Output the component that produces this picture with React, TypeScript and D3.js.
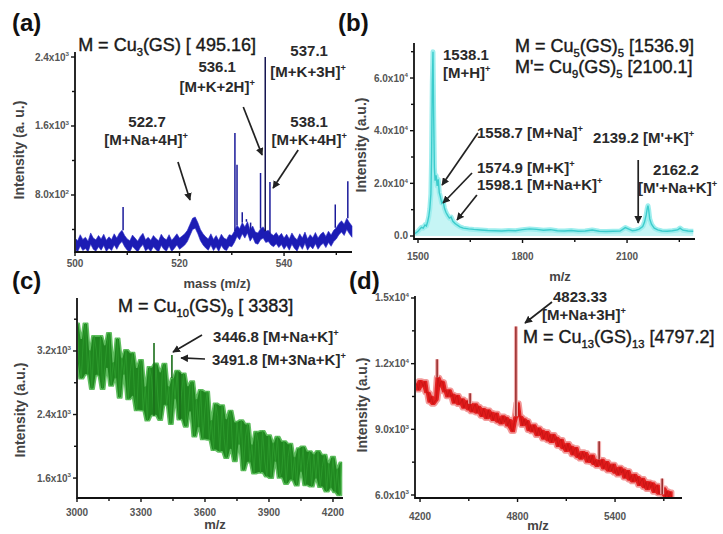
import React from "react";
import * as d3 from "d3";

const FONT = "'Liberation Sans', Arial, Helvetica, sans-serif";

// (a) Cu3(GS): top edge of the noise band every 0.5 m/z from 500, plus sharp peaks
const aStart = 500;
const aStep = 0.5;
const aNoise = [
  300, 270, 340, 285, 310, 265, 360, 300, 280, 330,
  290, 345, 275, 315, 285, 350, 300, 360, 390, 330,
  290, 270, 335, 300, 265, 320, 355, 280, 310, 275,
  330, 295, 270, 345, 300, 280, 340, 275, 310, 350,
  300, 325, 350, 390, 460, 530, 545, 480, 400, 350,
  315, 290, 350, 285, 330, 275, 345, 300, 285, 340,
  330, 380, 450, 410, 480, 430, 490, 395, 440, 370,
  360, 410, 430, 380, 390, 350, 330, 365, 320, 355,
  300, 345, 290, 360, 310, 280, 350, 300, 370, 290,
  340, 305, 365, 300, 345, 370, 320, 380, 335, 390,
  420, 470, 500, 460, 530, 480, 440,
];
const aPeakMz = [509.2, 530.6, 531.0, 532.0, 532.8, 533.6, 535.5, 536.4, 537.3, 549.8, 552.2];
const aPeakInt = [660, 1520, 1150, 600, 520, 480, 1055, 2400, 950, 690, 960];

// (b) Cu5(GS)5 / Cu9(GS)5
const bMz = [
  1490, 1495, 1500, 1505, 1510, 1515, 1520, 1524, 1528, 1531, 1534, 1537, 1539, 1541, 1543,
  1545, 1547, 1549, 1552, 1555, 1558, 1561, 1564, 1568, 1572, 1576, 1580, 1585, 1590, 1595,
  1600, 1606, 1612, 1620, 1630, 1645, 1660, 1680, 1700, 1720, 1740, 1760, 1780, 1800, 1820,
  1840, 1860, 1880, 1900, 1920, 1940, 1960, 1980, 2000, 2020, 2040, 2060, 2080, 2095, 2105,
  2115, 2125, 2135, 2145, 2150, 2155, 2158, 2160, 2162, 2165, 2170, 2178, 2188, 2200, 2215,
  2230, 2245, 2252, 2260, 2275, 2290,
];
const bInt = [
  900, 1300, 1800, 2600, 3300, 3000, 4200, 3800, 5600, 7500, 10500, 16000, 30000, 58000, 70000,
  45000, 26000, 21000, 23000, 19000, 21500, 16500, 15000, 12500, 13200, 10500, 9000, 7800, 6800, 7200,
  5600, 4800, 4200, 3500, 3000, 2700, 2500, 2300, 2100, 2000, 1900, 2100, 2000, 2400, 2700,
  2500, 2200, 2400, 2000, 1900, 2100, 1800, 1900, 2300, 1800, 1700, 1800, 1900, 3200, 2600,
  2000, 2200, 2600, 3600, 5200, 8000, 10500, 11500, 10000, 6500, 4500, 3000, 2300, 1900, 1800,
  2000, 2300, 3000, 2200, 1900, 1800,
];

// (c) Cu10(GS)9: noisy trace every 10 m/z from 3000, plus peaks
const cStart = 3000;
const cStep = 10;
const cNoise = [
  3550, 3060, 2850, 3360, 3550, 2900, 3210, 2720, 3390, 3220,
  2890, 3390, 2720, 2980, 3280, 3430, 2760, 3060, 2855, 3360,
  2610, 3115, 2900, 3215, 2590, 2945, 3180, 2625, 2450, 2995,
  3090, 2448, 2755, 2322, 3000, 2848, 2386, 3044, 2572, 2330,
  2940, 3042, 2514, 2756, 2278, 2860, 2592, 2954, 2336, 2668,
  2920, 2245, 2430, 2765, 2820, 2120, 2595, 2240, 2710, 2085,
  2470, 2690, 2080, 2330, 1950, 2540, 2380, 1930, 2520, 2100,
  1850, 2350, 2450, 1960, 1810, 2310, 2020, 2330, 1695, 2120,
  2285, 1795, 2025, 1655, 2185, 2055, 1665, 2195, 1815, 1617,
  2140, 1598, 2046, 1804, 2122, 1600, 1688, 2066, 1524, 1872,
  2035, 1571, 1867, 1503, 1979, 1675, 2001, 1507, 1773, 1940,
  1490, 1901, 1592, 1943, 1484, 1745, 1896, 1427, 1788, 1470,
  1870, 1420, 1720, 1380, 1800,
];
const cPeakMz = [3361, 3445, 3483];
const cPeakInt = [3300, 3150, 2930];

// (d) Cu13(GS)13: noisy trace every 10 m/z from 4180, plus peaks
const dStart = 4180;
const dStep = 10;
const dNoise = [
  11080, 10800, 11220, 11160, 10950, 11190, 10680, 10680, 10250, 10500,
  10150, 10260, 10350, 11380, 10950, 11200, 11160, 10720, 10790, 10490,
  10800, 10490, 10600, 10200, 10470, 10550, 10130, 10210, 10390, 9970,
  10210, 10300, 9890, 10170, 9800, 10010, 10160, 9750, 10040, 9780,
  9600, 9940, 9760, 9490, 9880, 9550, 9770, 9410, 9650, 9740,
  9330, 9500, 9250, 9610, 9330, 9540, 9160, 9440, 9050, 8900,
  9310, 9600, 10200, 9600, 9580, 9170, 9470, 9200, 9390, 8950,
  9190, 8890, 9200, 8930, 8720, 9060, 8740, 8950, 8560, 8790,
  8890, 8480, 8760, 8405, 8760, 8475, 8630, 8225, 8500, 8535,
  8120, 8295, 8000, 8350, 8020, 8220, 7840, 8080, 8160, 7730,
  7910, 7640, 7980, 7710, 7930, 7510, 7780, 7500, 7820, 7400,
  7590, 7315, 7630, 7360, 7620, 7200, 7420, 7520, 7100, 7380,
  7090, 7410, 7000, 7215, 6910, 7265, 7000, 7180, 6775, 7040,
  7110, 6685, 6900, 6600, 6940, 6640, 6830, 6440, 6640, 6750,
  6340, 6605, 6250, 6590, 6330, 6550, 6130, 6380, 6450, 6050,
  6270, 6030, 6320, 5920, 6180, 5880, 6140, 5850,
];
const dPeakMz = [4305, 4508, 4790, 5302, 5690];
const dPeakInt = [12200, 10650, 13700, 8450, 6750];

// ticks
const aXTicks = [500, 520, 540];
const aXMinor = [510, 530, 550];
const aYTicks = [2400, 1600, 800];
const aYMinor = [2000, 1200, 400];
const aYLabels = [["2.4x10", "3"], ["1.6x10", "3"], ["8.0x10", "2"]];

const bXTicks = [1500, 1800, 2100];
const bXMinor = [1650, 1950, 2250];
const bYTicks = [60000, 40000, 20000, 0];
const bYMinor = [70000, 50000, 30000, 10000];
const bYLabels = [["6.0x10", "4"], ["4.0x10", "4"], ["2.0x10", "4"], ["0.0", ""]];

const cXTicks = [3000, 3300, 3600, 3900, 4200];
const cXMinor = [3150, 3450, 3750, 4050];
const cYTicks = [3200, 2400, 1600];
const cYMinor = [3600, 2800, 2000];
const cYLabels = [["3.2x10", "3"], ["2.4x10", "3"], ["1.6x10", "3"]];

const dXTicks = [4200, 4800, 5400];
const dXMinor = [4500, 5100, 5700];
const dYTicks = [15000, 12000, 9000, 6000];
const dYMinor = [13500, 10500, 7500];
const dYLabels = [["1.5x10", "4"], ["1.2x10", "4"], ["9.0x10", "3"], ["6.0x10", "3"]];

type Part = [string, string?];
type Note = { m: number; v: number; parts: Part[]; bold?: boolean; anchor?: string };

const sup = (s: string, p: string): Part[] => [[s], [p, "sup"]];

const aNotes: Note[] = [
  { m: 500.6, v: 2470, parts: [["M = Cu"], ["3", "sub"], ["(GS) [ 495.16]"]], anchor: "start" },
  { m: 544.8, v: 2412, parts: [["537.1"]], bold: true },
  { m: 544.6, v: 2168, parts: sup("[M+K+3H]", "+"), bold: true },
  { m: 527.2, v: 2226, parts: [["536.1"]], bold: true },
  { m: 527.2, v: 1994, parts: sup("[M+K+2H]", "+"), bold: true },
  { m: 513.8, v: 1588, parts: [["522.7"]], bold: true },
  { m: 513.6, v: 1380, parts: sup("[M+Na+4H]", "+"), bold: true },
  { m: 544.8, v: 1588, parts: [["538.1"]], bold: true },
  { m: 544.8, v: 1380, parts: sup("[M+K+4H]", "+"), bold: true },
];
const aArrows = [
  [519.7, 1183, 522.0, 742],
  [532.2, 1820, 535.8, 1264],
  [542.7, 1322, 537.9, 881],
];

const bNotes: Note[] = [
  { m: 1778.5, v: 69880, parts: [["M = Cu"], ["5", "sub"], ["(GS)"], ["5", "sub"], [" [1536.9]"]], anchor: "start" },
  { m: 1778.5, v: 61900, parts: [["M'= Cu"], ["9", "sub"], ["(GS)"], ["5", "sub"], [" [2100.1]"]], anchor: "start" },
  { m: 1571.8, v: 66840, parts: [["1538.1"]], bold: true, anchor: "start" },
  { m: 1571.8, v: 60000, parts: sup("[M+H]", "+"), bold: true, anchor: "start" },
  { m: 1669.4, v: 37220, parts: sup("1558.7 [M+Na]", "+"), bold: true, anchor: "start" },
  { m: 2002.4, v: 35320, parts: sup("2139.2 [M'+K]", "+"), bold: true, anchor: "start" },
  { m: 1669.4, v: 23930, parts: sup("1574.9 [M+K]", "+"), bold: true, anchor: "start" },
  { m: 1669.4, v: 17470, parts: sup("1598.1 [M+Na+K]", "+"), bold: true, anchor: "start" },
  { m: 2174.7, v: 23170, parts: [["2162.2"]], bold: true, anchor: "start" },
  { m: 2131.6, v: 16330, parts: sup("[M'+Na+K]", "+"), bold: true, anchor: "start" },
];
const bArrows = [
  [1672, 39120, 1569, 19370],
  [1655, 23930, 1572, 12530],
  [1669, 15570, 1612, 6080],
  [2132, 28860, 2132, 4940],
];

const cNotes: Note[] = [
  { m: 3192, v: 3691, parts: [["M = Cu"], ["10", "sub"], ["(GS)"], ["9", "sub"], [" [ 3383]"]], anchor: "start" },
  { m: 3638, v: 3313, parts: sup("3446.8 [M+Na+K]", "+"), bold: true, anchor: "start" },
  { m: 3633, v: 3024, parts: sup("3491.8 [M+3Na+K]", "+"), bold: true, anchor: "start" },
];
const cArrows = [
  [3586, 3402, 3450, 3187],
  [3600, 3099, 3488, 3112],
];

const dNotes: Note[] = [
  { m: 5018, v: 14817, parts: [["4823.33"]], bold: true, anchor: "start" },
  { m: 4951, v: 13995, parts: sup("[M+Na+3H]", "+"), bold: true, anchor: "start" },
  { m: 4834, v: 12944, parts: [["M = Cu"], ["13", "sub"], ["(GS)"], ["13", "sub"], [" [4797.2]"]], anchor: "start" },
];
const dArrows = [[5012, 14817, 4846, 13858]];

const Rich = ({ parts, size }: { parts: Part[]; size: number }) => {
  let shift = 0;
  return (
    <>
      {parts.map(([t, k], i) => {
        const target = k === "sup" ? -size * 0.42 : k === "sub" ? size * 0.28 : 0;
        const dy = target - shift;
        shift = target;
        return (
          <tspan key={i} dy={dy} fontSize={k ? size * 0.62 : size}>
            {t}
          </tspan>
        );
      })}
    </>
  );
};

const Axes = ({ x, y, box, xt, xm, yt, ym, yl, xtBase }: any) => (
  <g stroke="#111">
    {xt.map((v: number) => (
      <line key={"xt" + v} x1={x(v)} x2={x(v)} y1={box.b} y2={box.b + 4} strokeWidth={1.4} />
    ))}
    {xm.map((v: number) => (
      <line key={"xm" + v} x1={x(v)} x2={x(v)} y1={box.b} y2={box.b + 3} strokeWidth={1.4} />
    ))}
    {yt.map((v: number) => (
      <line key={"yt" + v} x1={box.l - 4} x2={box.l} y1={y(v)} y2={y(v)} strokeWidth={1.4} />
    ))}
    {ym.map((v: number) => (
      <line key={"ym" + v} x1={box.l - 3} x2={box.l} y1={y(v)} y2={y(v)} strokeWidth={1.4} />
    ))}
    <line x1={box.l} x2={box.l} y1={box.t} y2={box.b + 1} strokeWidth={1.8} />
    <line x1={box.l} x2={box.r} y1={box.b} y2={box.b} strokeWidth={1.8} />
    <g stroke="none" fill="#555" fontWeight="bold" fontSize={10}>
      {xt.map((v: number) => (
        <text key={"xl" + v} x={x(v)} y={xtBase} textAnchor="middle">
          {v}
        </text>
      ))}
      {yt.map((v: number, i: number) => (
        <text key={"yl" + v} x={box.l - 6} y={y(v) + 3.5} textAnchor="end">
          <Rich parts={[[yl[i][0]], [yl[i][1], "sup"]]} size={10} />
        </text>
      ))}
    </g>
  </g>
);

const Notes = ({ x, y, notes, arrows }: any) => (
  <g>
    {arrows.map((a: number[], i: number) => (
      <line
        key={"ar" + i}
        x1={x(a[0])}
        y1={y(a[1])}
        x2={x(a[2])}
        y2={y(a[3])}
        stroke="#222"
        strokeWidth={1.7}
        markerEnd="url(#arrowHead)"
      />
    ))}
    {notes.map((n: Note, i: number) => (
      <text
        key={"n" + i}
        x={x(n.m)}
        y={y(n.v)}
        textAnchor={n.anchor || "middle"}
        fontWeight={n.bold ? "bold" : "normal"}
        fill={n.bold ? "#2a2a2a" : "#1a1a1a"}
        stroke={n.bold ? "none" : "#1a1a1a"}
        strokeWidth={n.bold ? 0 : 0.4}
      >
        <Rich parts={n.parts} size={n.bold ? 15 : 18} />
      </text>
    ))}
  </g>
);

const nearest = (arr: number[], start: number, step: number, m: number) =>
  arr[Math.max(0, Math.min(arr.length - 1, Math.round((m - start) / step)))];

// min / max of a point and its neighbours, to fill the noisy band solid
const env = (arr: number[], i: number, f: (...n: number[]) => number) =>
  f(arr[Math.max(0, i - 1)], arr[i], arr[Math.min(arr.length - 1, i + 1)]);

export default function App() {
  const boxA = { l: 75, r: 352, t: 52, b: 252 };
  const boxB = { l: 414, r: 695, t: 43, b: 239 };
  const boxC = { l: 77, r: 343, t: 298, b: 498 };
  const boxD = { l: 415, r: 682, t: 296, b: 498 };

  const xa = d3.scaleLinear().domain([500, 553]).range([boxA.l, boxA.r]);
  const ya = d3.scaleLinear().domain([139, 2458]).range([boxA.b, boxA.t]);
  const xb = d3.scaleLinear().domain([1488.5, 2295]).range([boxB.l, boxB.r]);
  const yb = d3.scaleLinear().domain([-1140, 73300]).range([boxB.b, boxB.t]);
  const xc = d3.scaleLinear().domain([3000, 4247]).range([boxC.l, boxC.r]);
  const yc = d3.scaleLinear().domain([1349, 3867]).range([boxC.b, boxC.t]);
  const xd = d3.scaleLinear().domain([4169, 5812]).range([boxD.l, boxD.r]);
  const yd = d3.scaleLinear().domain([5863, 15091]).range([boxD.b, boxD.t]);

  const aBand = d3
    .area<number>()
    .x((_, i) => xa(aStart + i * aStep))
    .y1((v) => ya(v))
    .y0((v) => ya(Math.max(v - 130, ya.domain()[0])))(aNoise);

  const bIdx = bMz.map((_, i) => i);
  const bArea = d3
    .area<number>()
    .x((i) => xb(bMz[i]))
    .y0(yb(0))
    .y1((i) => yb(bInt[i]))(bIdx);
  const bLine = d3
    .line<number>()
    .x((i) => xb(bMz[i]))
    .y((i) => yb(bInt[i]))(bIdx);

  const cx = (_: number, i: number) => xc(cStart + i * cStep);
  const cBand = d3
    .area<number>()
    .x(cx)
    .y0((_, i) => yc(env(cNoise, i, Math.min)))
    .y1((_, i) => yc(env(cNoise, i, Math.max)))(cNoise);
  const cLine = d3.line<number>().x(cx).y((v) => yc(v))(cNoise);

  const dx = (_: number, i: number) => xd(dStart + i * dStep);
  const dBand = d3
    .area<number>()
    .x(dx)
    .y0((_, i) => yd(env(dNoise, i, Math.min)))
    .y1((_, i) => yd(env(dNoise, i, Math.max)))(dNoise);
  const dLine = d3.line<number>().x(dx).y((v) => yd(v))(dNoise);

  const clip = (id: string, b: any) => (
    <clipPath id={id}>
      <rect x={b.l + 1} y={b.t - 12} width={b.r - b.l + 2} height={b.b - b.t + 11} />
    </clipPath>
  );

  return (
    <svg
      width={723}
      height={534}
      style={{ position: "absolute", left: 0, top: 0, background: "#fff" }}
      fontFamily={FONT}
    >
      <defs>
        <marker
          id="arrowHead"
          viewBox="0 0 10 10"
          refX="9"
          refY="5"
          markerWidth="4.5"
          markerHeight="4.5"
          orient="auto"
        >
          <path d="M0,0 L10,5 L0,10 z" fill="#222" />
        </marker>
        {clip("clipA", boxA)}
        {clip("clipB", boxB)}
        {clip("clipC", boxC)}
        {clip("clipD", boxD)}
      </defs>

      {/* panel letters */}
      <g fontSize={24} fontWeight="bold" fill="#111">
        <text x={12} y={31}>(a)</text>
        <text x={338} y={31}>(b)</text>
        <text x={12} y={289}>(c)</text>
        <text x={349} y={289}>(d)</text>
      </g>

      {/* axis titles */}
      <g fontSize={14} fontWeight="bold" fill="#444" textAnchor="middle">
        <text transform="translate(24,150) rotate(-90)">Intensity (a. u.)</text>
        <text transform="translate(366,145) rotate(-90)">Intensity (a.u.)</text>
        <text transform="translate(25,410) rotate(-90)">Intensity (a.u.)</text>
        <text transform="translate(367,405) rotate(-90)">Intensity (a.u.)</text>
        <text x={217} y={288} fontSize={13}>mass (m/z)</text>
        <text x={560} y={281} fontSize={13}>m/z</text>
        <text x={215} y={529} fontSize={13}>m/z</text>
        <text x={538} y={530} fontSize={13}>m/z</text>
      </g>

      {/* (a) */}
      <g clipPath="url(#clipA)">
        <path d={aBand || ""} fill="#1c1cb4" stroke="#2a2ac8" strokeWidth={0.6} />
        {aPeakMz.map((m, i) => (
          <line
            key={"ap" + i}
            x1={xa(m)}
            x2={xa(m)}
            y1={ya(nearest(aNoise, aStart, aStep, m))}
            y2={ya(aPeakInt[i])}
            stroke={aPeakInt[i] > 2000 ? "#141450" : "#1a1a9a"}
            strokeWidth={1.5}
          />
        ))}
      </g>
      <Axes x={xa} y={ya} box={boxA} xt={aXTicks} xm={aXMinor} yt={aYTicks} ym={aYMinor} yl={aYLabels} xtBase={267} />
      <Notes x={xa} y={ya} notes={aNotes} arrows={aArrows} />

      {/* (b) */}
      <g clipPath="url(#clipB)">
        <path d={bArea || ""} fill="#c6f5f5" />
        <path d={bLine || ""} fill="none" stroke="#9eeeee" strokeWidth={5} strokeLinejoin="round" />
        <path d={bLine || ""} fill="none" stroke="#3ccccc" strokeWidth={1.4} />
      </g>
      <Axes x={xb} y={yb} box={boxB} xt={bXTicks} xm={bXMinor} yt={bYTicks} ym={bYMinor} yl={bYLabels} xtBase={260} />
      <Notes x={xb} y={yb} notes={bNotes} arrows={bArrows} />

      {/* (c) */}
      <g clipPath="url(#clipC)">
        <path d={cBand || ""} fill="#1f861f" stroke="#5fbd5f" strokeWidth={1.6} strokeLinejoin="round" />
        <path d={cLine || ""} fill="none" stroke="#2e9e2e" strokeWidth={0.8} />
        {cPeakMz.map((m, i) => (
          <line
            key={"cp" + i}
            x1={xc(m)}
            x2={xc(m)}
            y1={yc(nearest(cNoise, cStart, cStep, m))}
            y2={yc(cPeakInt[i])}
            stroke="#1a6e1a"
            strokeWidth={1.6}
          />
        ))}
      </g>
      <Axes x={xc} y={yc} box={boxC} xt={cXTicks} xm={cXMinor} yt={cYTicks} ym={cYMinor} yl={cYLabels} xtBase={516} />
      <Notes x={xc} y={yc} notes={cNotes} arrows={cArrows} />

      {/* (d) */}
      <g clipPath="url(#clipD)">
        <path d={dBand || ""} fill="#e01a1a" stroke="#f29a9a" strokeWidth={5} strokeLinejoin="round" />
        <path d={dBand || ""} fill="#e01a1a" stroke="#e42020" strokeWidth={1.5} strokeLinejoin="round" />
        <path d={dLine || ""} fill="none" stroke="#c21212" strokeWidth={0.7} />
        {dPeakMz.map((m, i) => (
          <g key={"dp" + i}>
            <line
              x1={xd(m)}
              x2={xd(m)}
              y1={yd(nearest(dNoise, dStart, dStep, m))}
              y2={yd(dPeakInt[i])}
              stroke="#f2b0b0"
              strokeWidth={4}
            />
            <line
              x1={xd(m)}
              x2={xd(m)}
              y1={yd(nearest(dNoise, dStart, dStep, m))}
              y2={yd(dPeakInt[i])}
              stroke="#8e1a1a"
              strokeWidth={1.4}
            />
          </g>
        ))}
      </g>
      <Axes x={xd} y={yd} box={boxD} xt={dXTicks} xm={dXMinor} yt={dYTicks} ym={dYMinor} yl={dYLabels} xtBase={520} />
      <Notes x={xd} y={yd} notes={dNotes} arrows={dArrows} />
    </svg>
  );
}
